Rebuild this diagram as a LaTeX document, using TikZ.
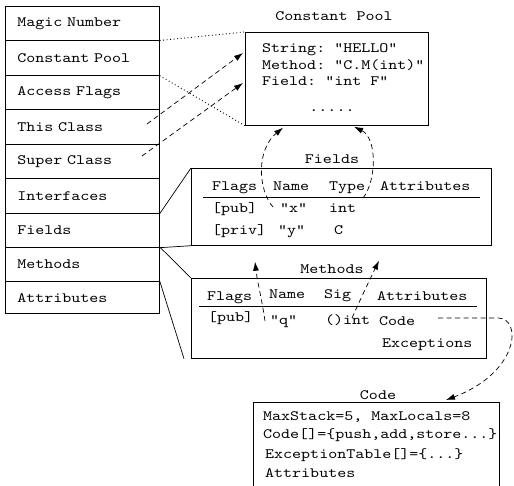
\documentclass[tikz,border=0pt]{standalone}
\usepackage{fontspec}
\setmonofont{lmmono10-regular.otf}[FakeStretch=1.2]
\usetikzlibrary{arrows.meta,calc}
\begin{document}
\begin{tikzpicture}[x=1pt,y=-1pt,
  font=\ttfamily\fontsize{14.3}{17}\selectfont,
  box/.style={draw, line width=0.7pt, inner sep=0, anchor=north west},
  row/.style={draw, line width=0.7pt, anchor=north west, inner xsep=12pt, inner ysep=0, text width=130pt, align=left},
  txt/.style={inner sep=0, anchor=base west},
  ttl/.style={inner sep=0, anchor=base},
  dotline/.style={line width=0.9pt, dash pattern=on 0.9pt off 2.6pt},
  dashline/.style={line width=0.7pt, dash pattern=on 5pt off 3.5pt},
  arr/.style={dashline, -{Latex[length=9pt,width=6pt]}},
  link/.style={line width=0.7pt}]
\useasboundingbox (0,0) rectangle (514,486);

% class file layout column
\foreach \nn/\ny/\nh/\ns in {magic/6/34.5/Magic Number, cpr/40.5/34.5/Constant Pool,
  access/75/34.5/Access Flags, this/109.5/34.5/This Class, super/144/34.5/Super Class,
  interf/178.5/34.5/Interfaces, fieldsr/213/34/Fields, methodsr/247/34/Methods,
  attr/281/32.5/Attributes}
  \node[row, minimum height=\nh pt] (\nn) at (5,\ny) {\ns};

% constant pool
\node[ttl] (cptitle) at (334,21) {Constant Pool};
\node[box, minimum width=183pt, minimum height=93pt] (cpool) at (245,32) {};
\node[txt] (cp1) at (262,53) {String: "HELLO"};
\node[txt] (cp2) at (262,69.5) {Method: "C.M(int)"};
\node[txt] (cp3) at (262,85.5) {Field: "int F"};
\node[ttl] (cp4) at (332,111.5) {.....};

% fields
\node[ttl] (ftitle) at (332,164) {Fields};
\node[box, minimum width=300pt, minimum height=77pt] (fbox) at (191,168) {};
\node[txt] (fh1) at (212,191) {Flags};
\node[txt] (fh2) at (273,190.5) {Name};
\node[txt] (fh3) at (329,190.5) {Type};
\node[txt] (fh4) at (380,191) {Attributes};
\draw[link] (203,197) -- (480,197);
\node[txt] (fa1) at (212,213) {[pub]};
\node[txt] (fa2) at (280,213) {"x"};
\node[txt] (fa3) at (329,213) {int};
\node[txt] (fb1) at (212,235) {[priv]};
\node[txt] (fb2) at (278,235) {"y"};
\node[txt] (fb3) at (334,235) {C};

% methods
\node[ttl] (mtitle) at (332,273.5) {Methods};
\node[box, minimum width=295pt, minimum height=80pt] (mbox) at (191,278) {};
\node[txt] (mh1) at (207,301) {Flags};
\node[txt] (mh2) at (269,299) {Name};
\node[txt] (mh3) at (324,299) {Sig};
\node[txt] (mh4) at (377,301) {Attributes};
\draw[link] (199,306) -- (477,306);
\node[txt] (ma1) at (208,322) {[pub]};
\node[txt] (ma2) at (270,324) {"q"};
\node[txt] (ma3) at (325,324) {()int};
\node[txt] (ma4) at (379,325) {Code};
\node[txt] (ma5) at (382,347) {Exceptions};

% code
\node[ttl] (ctitle) at (378,399.5) {Code};
\node[inner sep=0, anchor=north west, minimum width=246pt, minimum height=84pt] (codebox) at (253,402) {};
\draw[link] (codebox.south west) |- (codebox.north east) -- (codebox.south east);
\node[txt] (c1) at (263,420) {MaxStack=5, MaxLocals=8};
\node[txt] (c2) at (263,438.5) {Code[]=\{push,add,store...\}};
\node[txt] (c3) at (265,458) {ExceptionTable[]=\{...\}};
\node[txt] (c4) at (265,477) {Attributes};

% connectors from the column
\draw[dotline] (cpr.north east) -- (cpool.north west);
\draw[dotline] (cpr.south east) -- (cpool.south west);
\coordinate (thisend) at (147,124);
\coordinate (superend) at (142,156);
\draw[arr] (thisend) -- ($(cpool.north west)+(-2,21)$);
\draw[arr] (superend) -- ($(cpool.north west)+(-2,51)$);
\draw[link] (interf.south east) -- (fbox.north west);
\draw[link] (fieldsr.south east) -- (fbox.south west);
\draw[link] (methodsr.north east) -- (mbox.north west);
\draw[link] (attr.north east) -- ($(mbox.south west)+(-7,0)$);

% references into the constant pool
\coordinate (xs) at (273,207);
\coordinate (ts) at (363,198);
\draw[arr] (xs) .. controls (258,190) and (256,150) .. ($(cpool.south west)+(38,2)$);
\draw[arr] (ts) .. controls (377,180) and (377,138) .. ($(cpool.south west)+(109,1)$);

% references from methods
\coordinate (qs) at (265,321);
\coordinate (is) at (352,318);
\draw[arr] (qs) .. controls (262,300) and (257,280) .. ($(fbox.south west)+(64,16)$);
\draw[arr] (is) .. controls (360,300) and (372,275) .. ($(fbox.south west)+(188,15)$);

% code attribute
\coordinate (cs) at (438,318);
\coordinate (cbend) at (498,318);
\draw[arr] (cs) -- (cbend) .. controls (522,318) and (520,372) .. ($(codebox.north west)+(193,-2)$);
\end{tikzpicture}
\end{document}
